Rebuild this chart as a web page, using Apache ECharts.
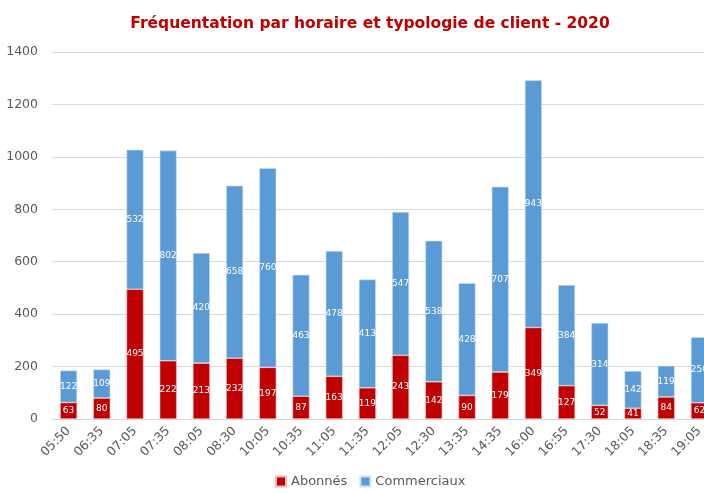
<!DOCTYPE html>
<html>
<head>
<meta charset="utf-8">
<script src="https://cdn.jsdelivr.net/npm/echarts@6/dist/echarts.min.js"></script>
<style>
  html, body { margin: 0; padding: 0; background: #fff; }
  #chart { width: 704px; height: 493px; }
</style>
</head>
<body>
<div id="chart"></div>
<script>
  var horaires = ['05:50', '06:35', '07:05', '07:35', '08:05', '08:30', '10:05', '10:35', '11:05', '11:35',
    '12:05', '12:30', '13:35', '14:35', '16:00', '16:55', '17:30', '18:05', '18:35', '19:05'];
  var abonnes = [63, 80, 495, 222, 213, 232, 197, 87, 163, 119, 243, 142, 90, 179, 349, 127, 52, 41, 84, 62];
  var commerciaux = [122, 109, 532, 802, 420, 658, 760, 463, 478, 413, 547, 538, 428, 707, 943, 384, 314, 142, 119, 250];

  var font = 'DejaVu Sans';
  var chart = echarts.init(document.getElementById('chart'));

  var barLabel = {
    show: true,
    position: 'inside',
    color: '#fff',
    fontSize: 9,
    fontFamily: font
  };

  chart.setOption({
    animation: false,
    title: {
      text: 'Fréquentation par horaire et typologie de client - 2020',
      left: 365,
      textAlign: 'center',
      top: 11,
      textStyle: { color: '#c00000', fontSize: 15.5, fontWeight: 'bold', fontFamily: font }
    },
    legend: {
      bottom: 0,
      left: 270,
      itemWidth: 10,
      itemHeight: 10,
      itemGap: 12,
      icon: 'rect',
      textStyle: { color: '#595959', fontSize: 13, fontFamily: font },
      data: ['Abonnés', 'Commerciaux']
    },
    grid: { left: 52, top: 52, height: 367, width: 664, outerBoundsMode: 'none', containLabel: false },
    xAxis: {
      type: 'category',
      data: horaires,
      axisLine: { lineStyle: { color: '#d9d9d9' } },
      axisTick: { show: false },
      axisLabel: { color: '#595959', fontSize: 12.5, fontFamily: font, rotate: 45, interval: 0, margin: 10 }
    },
    yAxis: {
      type: 'value',
      min: 0,
      max: 1400,
      interval: 200,
      axisLine: { show: false },
      axisTick: { show: false },
      axisLabel: { color: '#595959', fontSize: 12.5, fontFamily: font, margin: 14, formatter: function (v) { return String(v); } },
      splitLine: { lineStyle: { color: '#d9d9d9' } }
    },
    series: [
      {
        name: 'Abonnés',
        type: 'bar',
        stack: 'total',
        barWidth: 17,
        data: abonnes,
        itemStyle: { color: '#c00000', borderColor: '#f2b8b8', borderWidth: 0.6 },
        label: barLabel
      },
      {
        name: 'Commerciaux',
        type: 'bar',
        stack: 'total',
        barWidth: 17,
        data: commerciaux,
        itemStyle: { color: '#5b9bd5', borderColor: '#cfe2f3', borderWidth: 0.6 },
        label: barLabel
      }
    ]
  });
</script>
</body>
</html>
